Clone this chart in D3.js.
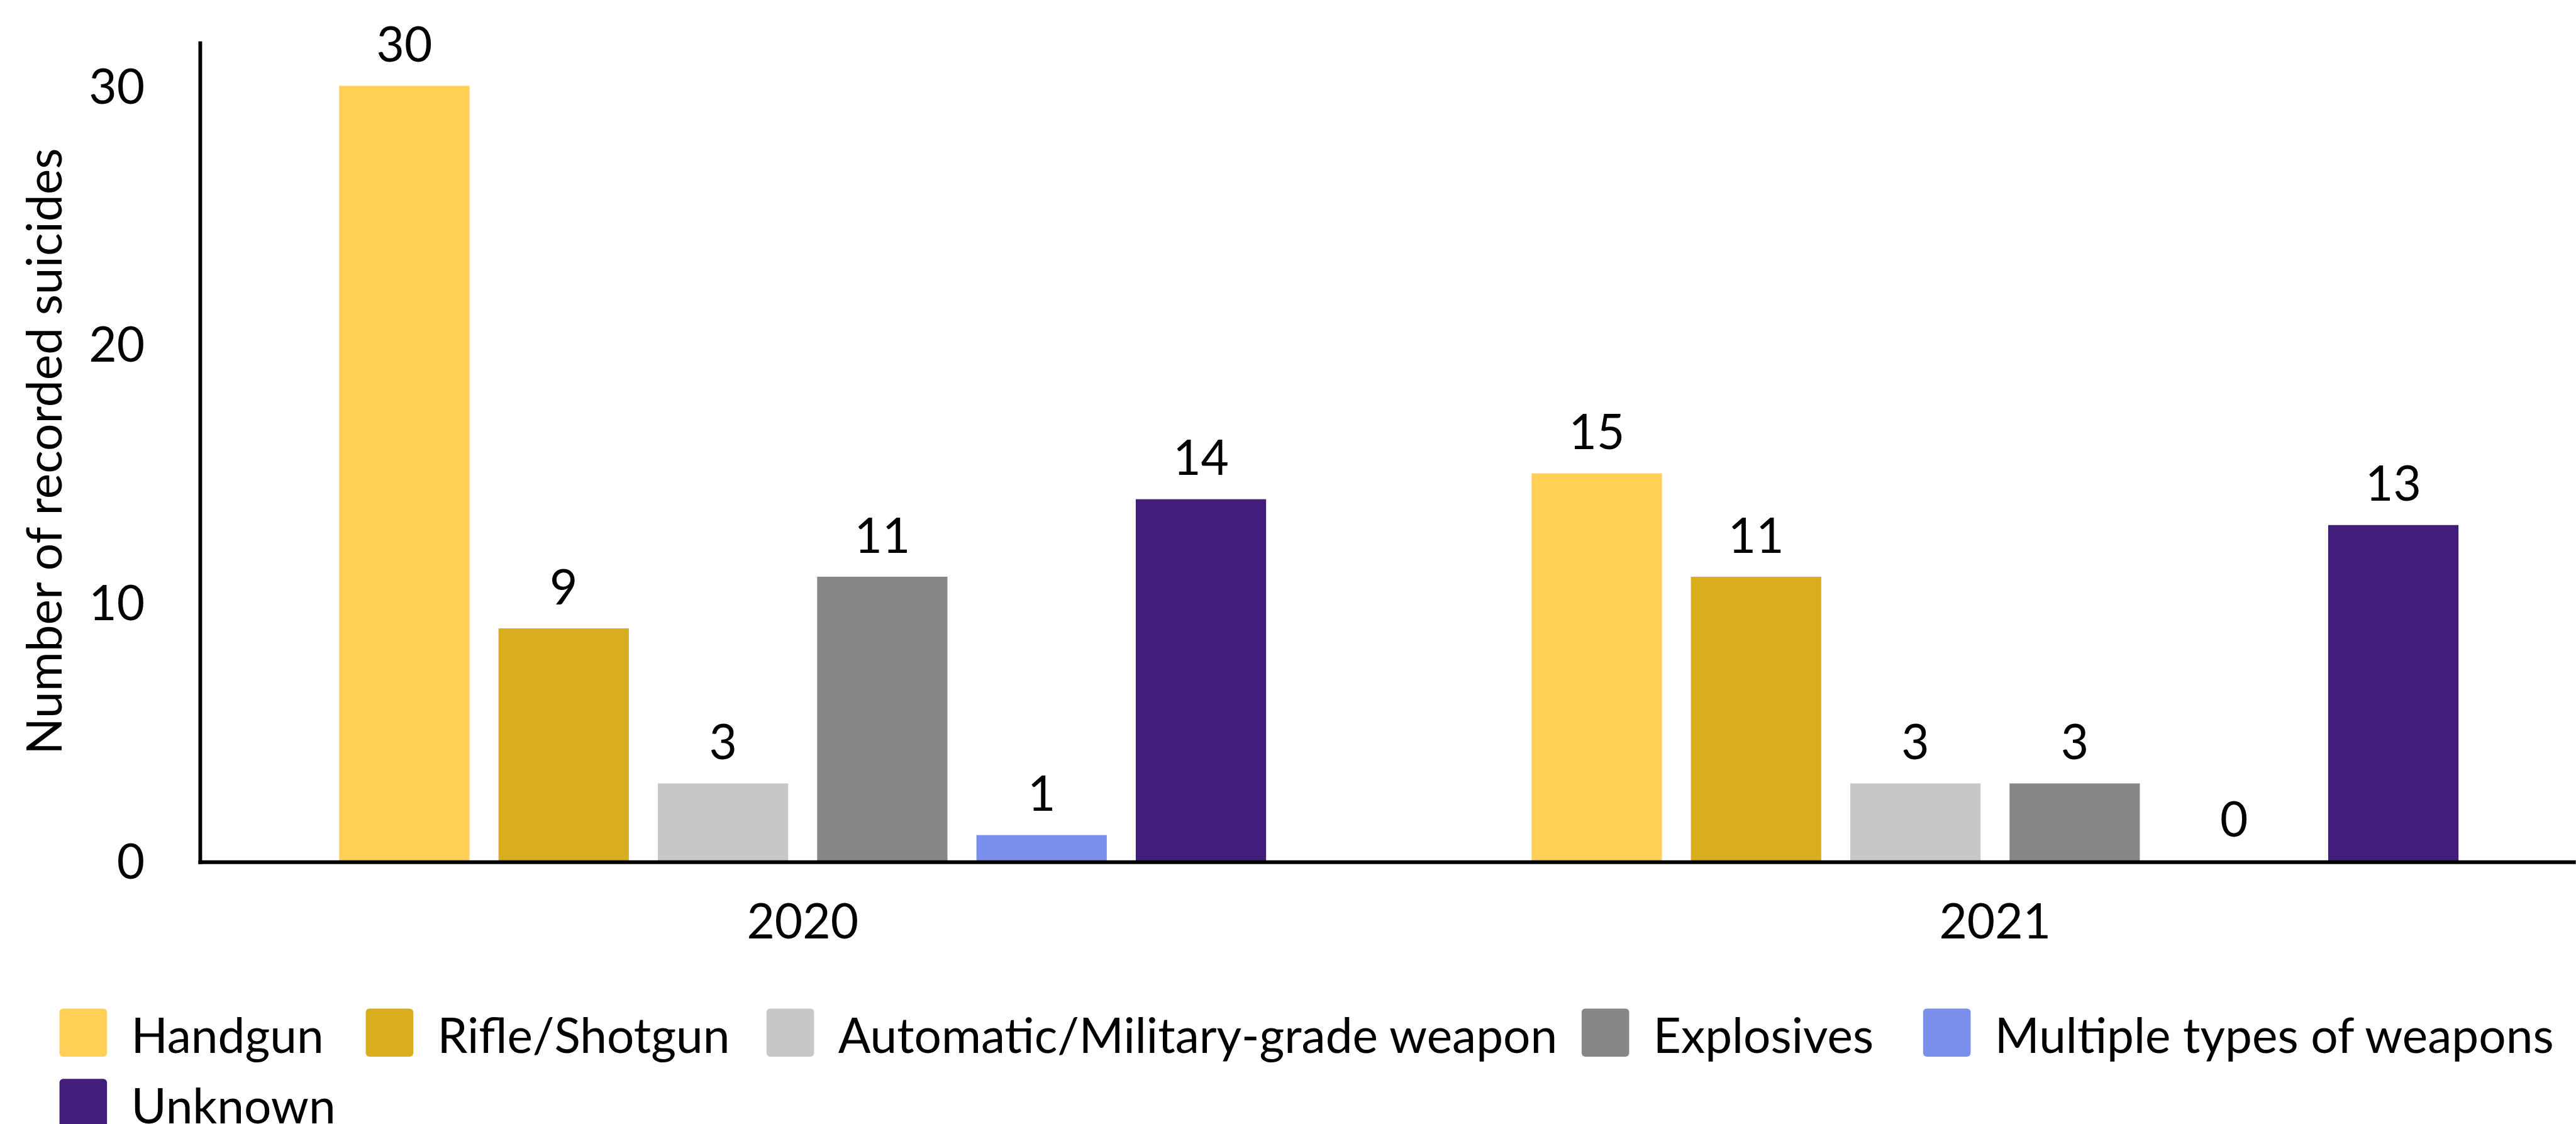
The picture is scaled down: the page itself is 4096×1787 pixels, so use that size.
<!DOCTYPE html>
<html>
<head>
<meta charset="utf-8">
<script src="https://d3js.org/d3.v7.min.js"></script>
<style>
  html, body { margin: 0; padding: 0; background: #fff; overflow: hidden; }
  svg text { font-family: Lato, "Open Sans", sans-serif; fill: #000; }
</style>
</head>
<body>
<div id="chart"></div>
<script>
'use strict';

// ─── DATA ────────────────────────────────────────────────────
var years = ['2020', '2021'];
var weaponTypes = ['Handgun', 'Rifle/Shotgun', 'Automatic/Military-grade weapon', 'Explosives', 'Multiple types of weapons', 'Unknown'];
var values2020 = [30, 9, 3, 11, 1, 14];
var values2021 = [15, 11, 3, 3, 0, 13];
var weaponColors = ['#FFCF56', '#D9AE1E', '#C7C7C7', '#878787', '#7B90EA', '#431D7A'];
var yTicks = [0, 10, 20, 30];

// ─── LAYOUT (reference pixel space, scaled by viewBox) ───────
var W = 4171, H = 1820;
var FONT = 78;

var svg = d3.select('#chart')
    .append('svg')
    .attr('width', 4096)
    .attr('height', 1787)
    .attr('viewBox', [0, 0, W, H]);

var rows = [];
years.forEach(function(yr, i) {
    var vals = i === 0 ? values2020 : values2021;
    weaponTypes.forEach(function(w, j) {
        rows.push({ year: yr, type: w, value: vals[j], color: weaponColors[j] });
    });
});

// scales
var axisX = 324;
var x0 = d3.scaleBand().domain(years).range([334, 4196]);
var groupW = 1548;
var x1 = d3.scaleBand().domain(weaponTypes)
    .range([x0.bandwidth() / 2 - groupW / 2, x0.bandwidth() / 2 + groupW / 2])
    .paddingInner(0.182).paddingOuter(0.091);
var y = d3.scaleLinear().domain([0, 31.72]).range([1394, 67]);

// ─── BARS ────────────────────────────────────────────────────
var g = svg.append('g');

g.append('g').attr('class', 'bars')
    .selectAll('rect')
    .data(rows)
    .enter()
    .append('rect')
    .attr('x', function(d) { return x0(d.year) + x1(d.type); })
    .attr('y', function(d) { return y(d.value); })
    .attr('width', x1.bandwidth())
    .attr('height', function(d) { return y(0) - y(d.value); })
    .attr('fill', function(d) { return d.color; });

// value labels
g.append('g').attr('class', 'labels')
    .selectAll('text')
    .data(rows)
    .enter()
    .append('text')
    .attr('x', function(d) { return x0(d.year) + x1(d.type) + x1.bandwidth() / 2; })
    .attr('y', function(d) { return y(d.value) - 39; })
    .attr('text-anchor', 'middle')
    .attr('font-size', FONT)
    .text(function(d) { return d.value; });

// ─── AXES ────────────────────────────────────────────────────
var yAxis = g.append('g')
    .attr('transform', 'translate(' + axisX + ',0)')
    .call(d3.axisLeft(y).tickValues(yTicks).tickSize(0).tickSizeOuter(0).tickPadding(90));
yAxis.select('.domain').remove();
yAxis.selectAll('text')
    .attr('font-size', FONT)
    .attr('font-family', 'Lato, sans-serif')
    .attr('fill', '#000')
    .attr('dy', '0.36em');

g.append('line')
    .attr('x1', axisX).attr('x2', axisX)
    .attr('y1', y.range()[1]).attr('y2', y(0) + 5)
    .attr('stroke', '#000').attr('stroke-width', 6);

var xAxis = g.append('g')
    .attr('transform', 'translate(0,' + y(0) + ')')
    .call(d3.axisBottom(x0).tickSize(0));
xAxis.select('.domain').remove();
xAxis.selectAll('text')
    .attr('font-size', FONT)
    .attr('font-family', 'Lato, sans-serif')
    .attr('fill', '#000')
    .attr('dy', null)
    .attr('y', 126);

g.append('line')
    .attr('x1', axisX - 3).attr('x2', W)
    .attr('y1', y(0) + 2).attr('y2', y(0) + 2)
    .attr('stroke', '#000').attr('stroke-width', 6);

// y-axis title
g.append('text')
    .attr('transform', 'translate(99,731) rotate(-90)')
    .attr('text-anchor', 'middle')
    .attr('font-size', FONT)
    .text('Number of recorded suicides');

// ─── LEGEND ──────────────────────────────────────────────────
// swatch positions follow the reference's legend layout (two rows)
var legendSlots = [[96, 0], [592, 0], [1241, 0], [2561, 0], [3114, 0], [96, 1]];
var legendTop = 1633, rowStep = 114;
var sw = 77, sh = 78, textGap = 116;

var legend = svg.append('g').attr('class', 'legend');
var items = legend.selectAll('g')
    .data(weaponTypes)
    .enter()
    .append('g')
    .attr('transform', function(d, i) {
        return 'translate(' + legendSlots[i][0] + ',' + (legendTop + legendSlots[i][1] * rowStep) + ')';
    });

items.append('rect')
    .attr('width', sw).attr('height', sh)
    .attr('rx', 6).attr('ry', 6)
    .attr('fill', function(d, i) { return weaponColors[i]; });

items.append('text')
    .attr('x', textGap)
    .attr('y', 72)
    .attr('font-size', FONT)
    .text(function(d) { return d; });
</script>
</body>
</html>
